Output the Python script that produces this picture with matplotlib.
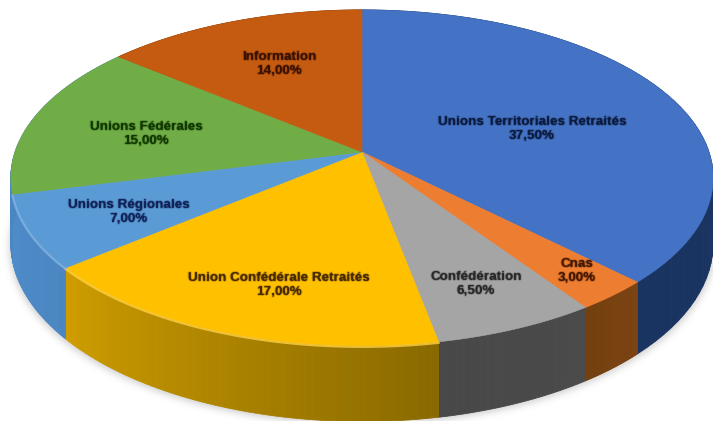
import numpy as np
import matplotlib
matplotlib.use("Agg")
import matplotlib.pyplot as plt
from matplotlib.patches import Polygon
from matplotlib.colors import to_rgb

categories = ["Unions Territoriales Retraités", "Cnas", "Confédération",
              "Union Confédérale Retraités", "Unions Régionales",
              "Unions Fédérales", "Information"]
shares = [37.5, 3.0, 6.5, 17.0, 7.0, 15.0, 14.0]
value_labels = ["37,50%", "3,00%", "6,50%", "17,00%", "7,00%", "15,00%", "14,00%"]

top_colors = ["#4472c4", "#ed7d31", "#a5a5a5", "#ffc000", "#5b9bd5", "#70ad47", "#c55a11"]
side_start = ["#1a3462", "#7c4313", "#4a4a4a", "#8a6a00", "#4a86c2", "#4a86c2", "#7a3a0c"]
side_end = ["#1a3462", "#74400f", "#484848", "#cf9d00", "#4f8cc9", "#4a86c2", "#7a3a0c"]
text_colors = ["#0c1c40", "#4a1a00", "#2a2a2a", "#4a2a00", "#10245a", "#123a00", "#3c1200"]
label_xy = [(532, 129), (577, 271), (476, 284), (279, 285), (129, 212), (146, 134), (279, 64)]

CX, CY, A, B, K, DEPTH = 362.0, 152.0, 347.0, 164.0, 0.154, 64.0


def project(theta):
    x, y = np.sin(theta), np.cos(theta)
    d = 1 + K * y
    return CX + A * x / d, CY - B * y / d, DEPTH / d


def mix(c1, c2, t):
    a = np.array(to_rgb(c1))
    b = np.array(to_rgb(c2))
    return tuple(a + (b - a) * t)


def make_soft(color, radius, gain):
    rgb = np.array(to_rgb(color))

    def soft(image, dpi):
        pad = int(np.ceil(radius * 3))
        alpha = np.pad(image[..., 3], pad)
        xs = np.arange(-pad, pad + 1)
        kernel = np.exp(-0.5 * (xs / radius) ** 2)
        kernel /= kernel.sum()
        for axis in (0, 1):
            alpha = np.apply_along_axis(lambda m: np.convolve(m, kernel, mode="same"), axis, alpha)
        out = np.zeros(alpha.shape + (4,))
        out[..., :3] = rgb
        out[..., 3] = np.clip(alpha * gain, 0, 1)
        return out, -pad, -pad
    return soft


fig = plt.figure(figsize=(7.13, 4.21), dpi=100, facecolor="white")
ax = fig.add_axes([0, 0, 1, 1])
ax.set_xlim(0, 713)
ax.set_ylim(421, 0)
ax.axis("off")

edges = np.radians(np.concatenate([[0], np.cumsum(shares)]) * 3.6)

# soft shadow under the pie
circle = np.linspace(0, 2 * np.pi, 361)
px, py, pd = project(circle)
shadow = Polygon(np.c_[CX + (px - CX) * 1.005, py + pd + 3], closed=True,
                 fc="#9a9a9a", ec="none", zorder=1)
shadow.set_agg_filter(make_soft("#9a9a9a", 3.5, 0.45))
ax.add_patch(shadow)

# side walls
for i in range(len(shares)):
    t = np.linspace(edges[i], edges[i + 1], 60)
    xs, ys, ds = project(t)
    for j in range(len(t) - 1):
        col = mix(side_start[i], side_end[i], j / (len(t) - 2))
        ax.add_patch(Polygon([(xs[j], ys[j]), (xs[j + 1], ys[j + 1]),
                              (xs[j + 1], ys[j + 1] + ds[j + 1]), (xs[j], ys[j] + ds[j])],
                             closed=True, fc=col, ec=col, lw=0.6, zorder=2))

# top faces
for i in range(len(shares)):
    t = np.linspace(edges[i], edges[i + 1], 120)
    xs, ys, _ = project(t)
    ax.add_patch(Polygon(np.r_[[(CX, CY)], np.c_[xs, ys]], closed=True,
                         fc=top_colors[i], ec=top_colors[i], lw=0.4, zorder=3))
    # pale bevel along the rim
    if i in (3, 4):
        ax.plot(xs, ys + 1, color=mix(top_colors[i], "#ffffff", 0.25), lw=1.6, alpha=0.8, zorder=4)

for name, val, (x, y), col in zip(categories, value_labels, label_xy, text_colors):
    txt = ax.text(x, y, f"{name}\n{val}", ha="center", va="center", fontsize=9.7,
                  family="Liberation Sans", fontweight="bold", color=col,
                  linespacing=1.12, zorder=5)
    txt.set_agg_filter(make_soft(col, 0.6, 1.5))

fig.savefig("out.png", dpi=100)
